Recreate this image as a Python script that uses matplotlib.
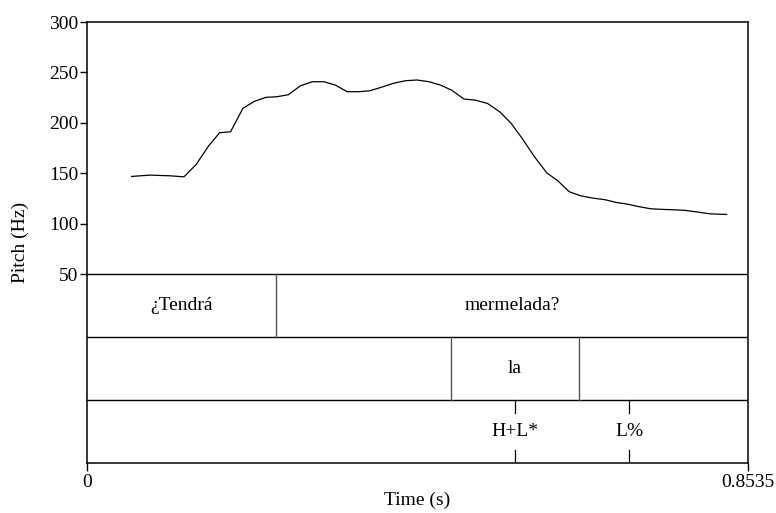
import numpy as np
import matplotlib.pyplot as plt

plt.rcParams['font.family'] = ['Liberation Serif', 'DejaVu Serif']

# pitch track (s, Hz)
time = [0.0576, 0.0814, 0.1078, 0.1252, 0.1410, 0.1569, 0.1712, 0.1854,
        0.2013, 0.2160, 0.2309, 0.2451, 0.2599, 0.2757, 0.2910, 0.3058,
        0.3206, 0.3359, 0.3507, 0.3650, 0.3797, 0.3956, 0.4114, 0.4262,
        0.4416, 0.4563, 0.4706, 0.4869, 0.5012, 0.5170, 0.5329, 0.5477,
        0.5619, 0.5778, 0.5936, 0.6079, 0.6227, 0.6374, 0.6532, 0.6691,
        0.6834, 0.6981, 0.7135, 0.7282, 0.7441, 0.7589, 0.7731, 0.7890,
        0.8049, 0.8260]
pitch = [146.9, 148.2, 147.5, 146.5, 158.8, 177.0, 190.2, 191.2,
         214.4, 221.3, 225.3, 225.9, 227.9, 236.8, 240.8, 240.8,
         237.5, 230.9, 230.9, 231.8, 235.2, 239.2, 241.8, 242.5,
         240.8, 237.5, 232.5, 223.6, 222.6, 219.3, 211.0, 199.5,
         184.6, 166.4, 150.5, 142.6, 131.7, 127.7, 125.4, 123.8,
         121.1, 119.4, 116.8, 114.8, 114.2, 113.8, 113.2, 111.5,
         109.8, 109.2]

t_end = 0.8535

# text grid
words = ['¿Tendrá', 'mermelada?']
word_bounds = [0.0, 0.244, t_end]
syll_labels = ['', 'la', '']
syll_bounds = [0.0, 0.4695, 0.635, t_end]
tone_labels = ['H+L*', 'L%']
tone_times = [0.553, 0.700]

fmin, fmax = 50, 300
tier_h = 62.5  # each tier, in Hz units of the pitch scale
fs = 14

fig = plt.figure(figsize=(7.76, 5.13), dpi=100)
ax = fig.add_axes([0.1121, 0.0969, 0.8518, 0.8602])

ax.plot(time, pitch, color='black', lw=0.9)

ymin = fmin - 3 * tier_h
ax.set_xlim(0, t_end)
ax.set_ylim(ymin, fmax)

# tier separators
for k in range(3):
    ax.axhline(fmin - k * tier_h, color='black', lw=1)

# tier 1: words
top1, bot1 = fmin, fmin - tier_h
for b in word_bounds[1:-1]:
    ax.plot([b, b], [bot1, top1], color='#555555', lw=1)
for i, w in enumerate(words):
    ax.text((word_bounds[i] + word_bounds[i + 1]) / 2, (top1 + bot1) / 2, w,
            ha='center', va='center', fontsize=fs)

# tier 2: syllables
top2, bot2 = bot1, bot1 - tier_h
for b in syll_bounds[1:-1]:
    ax.plot([b, b], [bot2, top2], color='#555555', lw=1)
for i, s in enumerate(syll_labels):
    if s:
        ax.text((syll_bounds[i] + syll_bounds[i + 1]) / 2, (top2 + bot2) / 2, s,
                ha='center', va='center', fontsize=fs)

# tier 3: tones (point tier)
top3, bot3 = bot2, bot2 - tier_h
mark = 13
for t, lab in zip(tone_times, tone_labels):
    ax.plot([t, t], [top3, top3 - mark], color='black', lw=0.9)
    ax.plot([t, t], [bot3, bot3 + mark], color='black', lw=0.9)
    ax.text(t, (top3 + bot3) / 2, lab, ha='center', va='center', fontsize=fs)

ax.set_yticks([50, 100, 150, 200, 250, 300])
ax.set_xticks([0, t_end])
ax.set_xticklabels(['0', '0.8535'])
ax.tick_params(direction='out', length=5, width=1, labelsize=fs, pad=1)
ax.tick_params(axis='x', length=6, pad=2)
for s in ax.spines.values():
    s.set_linewidth(1.1)

ax.set_ylabel('Pitch (Hz)', fontsize=fs)
ax.yaxis.set_label_coords(-0.088, 0.5)
ax.set_xlabel('Time (s)', fontsize=fs)
ax.xaxis.set_label_coords(0.5, -0.064)

fig.savefig('out.png', dpi=100)
